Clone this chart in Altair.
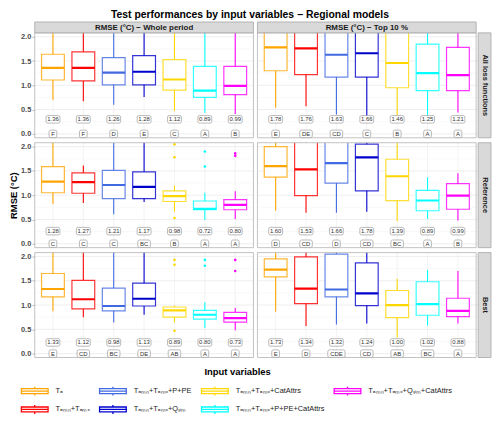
import altair as alt
import pandas as pd

TITLE = "Test performances by input variables − Regional models"
models = ["Tₐ", "Tₐₘₙ+Tₐₘₓ", "Tₐₘₙ+Tₐₘₓ+P+PE", "Tₐₘₙ+Tₐₘₓ+Qₛᵢₘ",
          "Tₐₘₙ+Tₐₘₓ+CatAttrs", "Tₐₘₙ+Tₐₘₓ+P+PE+CatAttrs", "Tₐₘₙ+Tₐₘₓ+Qₛᵢₘ+CatAttrs"]
colors = ["#FFA500", "#FF0000", "#4169E1", "#0000CD", "#FFD700", "#00FFFF", "#FF00FF"]
row_names = ["All loss functions", "Reference", "Best"]
col_names = ["RMSE (°C) − Whole period", "RMSE (°C) − Top 10 %"]
major_ticks = [0.0, 0.5, 1.0, 1.5, 2.0]
minor_ticks = [0.25, 0.75, 1.25, 1.75]

# ---- All loss functions / Whole period
aw_lo = [0.70, 0.67, 0.60, 0.76, 0.47, 0.43, 0.41]
aw_q1 = [1.11, 1.09, 1.01, 1.01, 0.90, 0.75, 0.81]
aw_med = [1.36, 1.36, 1.26, 1.28, 1.12, 0.89, 0.99]
aw_q3 = [1.64, 1.69, 1.57, 1.61, 1.53, 1.39, 1.39]
aw_hi = [2.45, 2.50, 2.40, 2.40, 2.30, 2.30, 2.25]
aw_let = ["F", "F", "D", "E", "C", "A", "B"]
# ---- All loss functions / Top 10 %
at_lo = [0.54, 0.57, 0.40, 0.37, 0.35, 0.33, 0.44]
at_q1 = [1.30, 1.22, 1.17, 1.17, 0.95, 0.89, 0.89]
at_med = [1.78, 1.76, 1.63, 1.66, 1.46, 1.25, 1.21]
at_q3 = [2.25, 2.30, 2.20, 2.20, 2.15, 1.85, 1.78]
at_hi = [2.90, 2.90, 2.80, 2.80, 2.70, 2.60, 2.50]
at_let = ["E", "DE", "CD", "C", "B", "A", "A"]
# ---- Reference / Whole period
rw_lo = [0.82, 0.84, 0.61, 0.86, 0.66, 0.49, 0.51]
rw_q1 = [1.05, 1.04, 0.93, 0.93, 0.87, 0.70, 0.70]
rw_med = [1.28, 1.27, 1.21, 1.17, 0.98, 0.72, 0.80]
rw_q3 = [1.59, 1.46, 1.51, 1.48, 1.09, 0.88, 0.91]
rw_hi = [2.20, 1.61, 2.30, 2.30, 1.20, 1.05, 1.08]
rw_let = ["C", "C", "C", "BC", "B", "A", "A"]
rw_out_model = [4, 4, 4, 5, 5, 6, 6]
rw_out_val = [2.05, 1.78, 0.53, 1.90, 1.59, 1.86, 1.81]
# ---- Reference / Top 10 %
rt_lo = [0.68, 0.64, 0.64, 0.66, 0.47, 0.51, 0.48]
rt_q1 = [1.37, 0.99, 1.25, 1.09, 0.89, 0.68, 0.71]
rt_med = [1.60, 1.53, 1.66, 1.78, 1.39, 0.89, 0.99]
rt_q3 = [2.00, 2.20, 2.20, 2.05, 1.74, 1.10, 1.24]
rt_hi = [2.70, 2.80, 2.80, 2.70, 2.50, 1.37, 1.45]
rt_let = ["D", "CD", "D", "CD", "BC", "A", "B"]
# ---- Best / Whole period
bw_lo = [0.87, 0.75, 0.64, 0.80, 0.64, 0.53, 0.48]
bw_q1 = [1.17, 0.92, 0.88, 0.98, 0.75, 0.71, 0.65]
bw_med = [1.33, 1.12, 0.98, 1.13, 0.89, 0.80, 0.73]
bw_q3 = [1.65, 1.51, 1.35, 1.45, 0.96, 0.89, 0.85]
bw_hi = [2.30, 2.30, 2.20, 2.20, 0.99, 1.06, 0.94]
bw_let = ["E", "CD", "BC", "DE", "AB", "A", "A"]
bw_out_model = [4, 4, 4, 5, 5, 6, 6]
bw_out_val = [1.93, 1.83, 0.47, 1.93, 1.81, 1.93, 1.70]
# ---- Best / Top 10 %
bt_lo = [0.86, 0.57, 0.60, 0.62, 0.33, 0.58, 0.62]
bt_q1 = [1.58, 1.03, 1.17, 0.99, 0.74, 0.79, 0.76]
bt_med = [1.73, 1.34, 1.32, 1.24, 1.00, 1.02, 0.88]
bt_q3 = [1.95, 1.99, 2.05, 1.87, 1.30, 1.48, 1.14]
bt_hi = [2.60, 2.60, 2.60, 2.50, 1.54, 1.72, 1.70]
bt_let = ["E", "D", "CDE", "CD", "AB", "BC", "A"]

stats = {
    (0, 0): (aw_lo, aw_q1, aw_med, aw_q3, aw_hi, aw_let),
    (0, 1): (at_lo, at_q1, at_med, at_q3, at_hi, at_let),
    (1, 0): (rw_lo, rw_q1, rw_med, rw_q3, rw_hi, rw_let),
    (1, 1): (rt_lo, rt_q1, rt_med, rt_q3, rt_hi, rt_let),
    (2, 0): (bw_lo, bw_q1, bw_med, bw_q3, bw_hi, bw_let),
    (2, 1): (bt_lo, bt_q1, bt_med, bt_q3, bt_hi, bt_let),
}
outliers = {
    (1, 0): (rw_out_model, rw_out_val),
    (2, 0): (bw_out_model, bw_out_val),
}

# ---- layout / style constants
PW, PH, STRIP, GAP, RSTRIP = 221, 106, 11, 2, 13
YDOM = [-0.08, 2.08]
XDOM = [0.4, 7.6]
PXU_X = PW / (XDOM[1] - XDOM[0])
PXU_Y = PH / (YDOM[1] - YDOM[0])
BOX_HALF = 0.375
LAB_HALF_W = 7.0 / PXU_X
LAB_HALF_H = 3.8 / PXU_Y
LABEL_Y = [0.30, 0.26, 0.23]
LETTER_Y = 0.0
FONT = "Liberation Sans"

recs = []
for (r, c), (lo, q1, med, q3, hi, let) in stats.items():
    for i in range(7):
        ew = (3 + 4.8 * len(let[i])) / 2 / PXU_X
        recs.append(dict(
            row=r, col=c, idx=i + 1, model=models[i],
            lo=lo[i], q1=q1[i], med=med[i], q3=q3[i], hi=hi[i],
            lab=f"{med[i]:.2f}", letter=let[i],
            xl=i + 1 - BOX_HALF, xr=i + 1 + BOX_HALF,
            lxl=i + 1 - LAB_HALF_W, lxr=i + 1 + LAB_HALF_W,
            ly=LABEL_Y[r], ly0=LABEL_Y[r] - LAB_HALF_H, ly1=LABEL_Y[r] + LAB_HALF_H,
            exl=i + 1 - ew, exr=i + 1 + ew,
            ey=LETTER_Y, ey0=LETTER_Y - LAB_HALF_H, ey1=LETTER_Y + LAB_HALF_H,
        ))
df = pd.DataFrame(recs)

orecs = []
for (r, c), (mi, vals) in outliers.items():
    for m, v in zip(mi, vals):
        orecs.append(dict(row=r, col=c, idx=m + 1, model=models[m], val=v))
odf = pd.DataFrame(orecs)

legend_order = [0, 2, 4, 6, 1, 3, 5]
BOX_PATH = "M-1.35,-0.25H1.35V0.25H-1.35Z M-1.35,0H1.35 M0,-0.25V-0.45 M0,0.25V0.45"

stroke_enc = alt.Stroke(
    "model:N",
    scale=alt.Scale(domain=[models[k] for k in legend_order],
                    range=[colors[k] for k in legend_order]),
    legend=alt.Legend(
        title="Input variables", orient="none", legendX=-11, legendY=349,
        columns=4, direction="horizontal",
        symbolType=BOX_PATH, symbolSize=400, symbolStrokeWidth=1.3,
        symbolFillColor="white",
        labelFontSize=7.5, labelFont=FONT, labelColor="#1A1A1A", labelOffset=10,
        labelLimit=300, columnPadding=6, rowPadding=0,
        titleFontSize=9.5, titleFont=FONT, titleFontWeight="bold",
        titleColor="#000000", titleAnchor="middle", titlePadding=3,
    ),
)
fill_enc = alt.Color("model:N", scale=alt.Scale(domain=models, range=colors), legend=None)


def panel(r, c):
    top = r == 0
    right = c == 1
    H = PH + (STRIP if top else 0)
    W = PW + (GAP + RSTRIP if right else 0)
    y0 = STRIP if top else 0
    ys = alt.Scale(domain=YDOM, range=[H, y0], nice=False, zero=False)
    xs = alt.Scale(domain=XDOM, range=[0, PW], nice=False, zero=False)
    d = df[(df.row == r) & (df.col == c)]

    if c == 0:
        yax = alt.Axis(values=major_ticks, format=".1f", grid=False, domain=False,
                       tickSize=3, tickColor="#B3B3B3", tickWidth=0.8,
                       labelFontSize=7.5, labelColor="#4D4D4D", labelFont=FONT,
                       labelFontWeight="bold", labelPadding=1,
                       title="RMSE (°C)", titleFontSize=9.5, titleFont=FONT,
                       titleFontWeight="bold", titleColor="#000000", titlePadding=2,
                       titleOpacity=1 if r == 1 else 0)
    else:
        yax = None

    X = lambda f: alt.X(f, scale=xs, axis=None)
    Y = lambda f: alt.Y(f, scale=ys, axis=yax)

    layers = [
        alt.Chart(pd.DataFrame({"v": minor_ticks})).mark_rule(color="#F3F3F3", strokeWidth=0.5)
        .encode(y=Y("v:Q")),
        alt.Chart(pd.DataFrame({"v": major_ticks})).mark_rule(color="#EBEBEB", strokeWidth=0.8)
        .encode(y=Y("v:Q")),
        alt.Chart(pd.DataFrame({"i": list(range(1, 8))})).mark_rule(color="#EBEBEB", strokeWidth=0.6)
        .encode(x=X("i:Q")),
        alt.Chart(d).mark_rule(strokeWidth=1.1, clip=True)
        .encode(x=X("idx:Q"), y=Y("lo:Q"), y2="hi:Q", stroke=stroke_enc),
        alt.Chart(d).mark_rect(fill="white", strokeWidth=1.2, strokeOpacity=0.8, clip=True)
        .encode(x=X("xl:Q"), x2="xr:Q", y=Y("q1:Q"), y2="q3:Q", stroke=stroke_enc),
        alt.Chart(d).mark_rule(strokeWidth=2.2, clip=True)
        .encode(x=X("xl:Q"), x2="xr:Q", y=Y("med:Q"), stroke=stroke_enc),
    ]
    if (r, c) in outliers:
        o = odf[(odf.row == r) & (odf.col == c)]
        layers.append(alt.Chart(o).mark_circle(size=7, opacity=1, clip=True)
                      .encode(x=X("idx:Q"), y=Y("val:Q"), color=fill_enc))
    layers += [
        alt.Chart(d).mark_rect(fill="white", stroke="#8C8C8C", strokeWidth=0.6, cornerRadius=1.5)
        .encode(x=X("lxl:Q"), x2="lxr:Q", y=Y("ly0:Q"), y2="ly1:Q"),
        alt.Chart(d).mark_text(fontSize=6, color="#333333", font=FONT)
        .encode(x=X("idx:Q"), y=Y("ly:Q"), text="lab:N"),
        alt.Chart(d).mark_rect(fill="white", stroke="#8C8C8C", strokeWidth=0.6, cornerRadius=1.5)
        .encode(x=X("exl:Q"), x2="exr:Q", y=Y("ey0:Q"), y2="ey1:Q"),
        alt.Chart(d).mark_text(fontSize=6, color="#333333", font=FONT)
        .encode(x=X("idx:Q"), y=Y("ey:Q"), text="letter:N"),
    ]
    if top:
        s = pd.DataFrame({"t": [col_names[c]]})
        layers.append(alt.Chart(s).mark_rect(fill="#D9D9D9", stroke="#A6A6A6", strokeWidth=0.8)
                      .encode(x=alt.value(0), x2=alt.value(PW), y=alt.value(0), y2=alt.value(STRIP)))
        layers.append(alt.Chart(s).mark_text(fontSize=8, fontWeight="bold", color="#1A1A1A", font=FONT)
                      .encode(x=alt.value(PW / 2), y=alt.value(STRIP / 2 + 0.5), text="t:N"))
    if right:
        s = pd.DataFrame({"t": [row_names[r]]})
        layers.append(alt.Chart(s).mark_rect(fill="#D9D9D9", stroke="#A6A6A6", strokeWidth=0.8)
                      .encode(x=alt.value(PW + GAP), x2=alt.value(W), y=alt.value(y0), y2=alt.value(H)))
        layers.append(alt.Chart(s).mark_text(fontSize=7.5, fontWeight="bold", color="#1A1A1A",
                                             font=FONT, angle=90)
                      .encode(x=alt.value(PW + GAP + RSTRIP / 2 + 0.5), y=alt.value((y0 + H) / 2), text="t:N"))
    layers.append(alt.Chart(pd.DataFrame({"t": ["border"]}))
                  .mark_rect(fillOpacity=0, stroke="#B3B3B3", strokeWidth=0.8)
                  .encode(x=alt.value(0), x2=alt.value(PW), y=alt.value(y0), y2=alt.value(H)))
    return alt.layer(*layers).properties(width=W, height=H)


rows_ch = [alt.hconcat(panel(r, 0), panel(r, 1), spacing=GAP) for r in range(3)]
chart = (
    alt.vconcat(*rows_ch, spacing=3)
    .properties(
        title=alt.TitleParams(TITLE, fontSize=10.5, fontWeight="bold", font=FONT,
                              anchor="middle", offset=1, color="#000000"),
        padding=0,
    )
    .configure_view(stroke=None)
)

chart.save("out.html", embed_options={"renderer": "svg", "actions": False})
